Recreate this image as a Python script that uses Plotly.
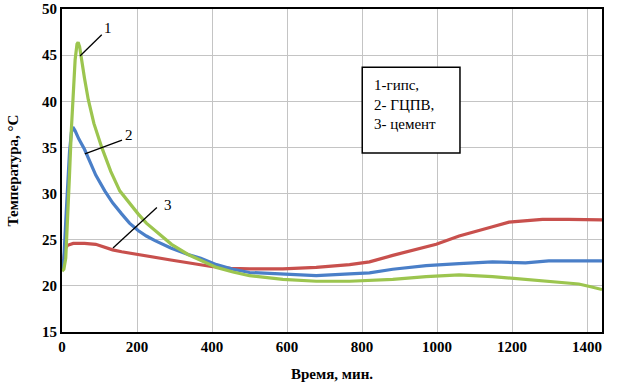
import plotly.graph_objects as go

# --- data ---
t_gips = [0, 5, 10, 15, 20, 25, 30, 35, 40, 43, 47, 50, 60, 70, 85, 106, 130, 154, 180, 203, 225, 248, 270, 292, 336, 370, 412, 456, 500, 589, 678, 767, 882, 971, 1059, 1148, 1236, 1325, 1378, 1410, 1440]
T_gips = [21.6, 21.8, 23.0, 27.0, 32.0, 37.0, 41.5, 44.5, 46.2, 46.4, 45.9, 45.0, 42.5, 40.2, 37.6, 35.0, 32.4, 30.3, 28.9, 27.8, 26.8, 26.0, 25.2, 24.5, 23.4, 22.8, 22.0, 21.5, 21.1, 20.7, 20.5, 20.5, 20.7, 21.0, 21.2, 21.0, 20.7, 20.4, 20.2, 19.9, 19.6]

t_gcpv = [0, 5, 10, 15, 20, 25, 29, 35, 45, 60, 70, 90, 114, 135, 159, 180, 203, 225, 248, 290, 336, 370, 412, 456, 500, 589, 678, 767, 820, 882, 971, 1059, 1148, 1236, 1298, 1440]
T_gcpv = [21.6, 23.0, 27.0, 31.0, 34.5, 36.6, 37.2, 36.8, 35.9, 34.8, 33.9, 32.0, 30.3, 29.0, 27.8, 26.8, 26.0, 25.4, 24.9, 24.1, 23.4, 23.0, 22.3, 21.8, 21.45, 21.3, 21.1, 21.3, 21.4, 21.8, 22.2, 22.4, 22.6, 22.5, 22.7, 22.7]

t_cem = [0, 4, 8, 15, 30, 60, 90, 114, 135, 159, 200, 248, 290, 336, 398, 450, 500, 589, 678, 767, 820, 882, 940, 998, 1059, 1100, 1148, 1192, 1240, 1281, 1350, 1440]
T_cem = [21.6, 22.5, 24.0, 24.4, 24.6, 24.6, 24.5, 24.2, 23.9, 23.7, 23.4, 23.1, 22.8, 22.5, 22.1, 21.9, 21.85, 21.85, 22.0, 22.3, 22.6, 23.3, 23.9, 24.5, 25.4, 25.9, 26.4, 26.9, 27.1, 27.2, 27.2, 27.15]

x_ticks = [0, 200, 400, 600, 800, 1000, 1200, 1400]
y_ticks = [15, 20, 25, 30, 35, 40, 45, 50]

legend_text = "1-гипс,<br>2- ГЦПВ,<br>3- цемент"
x_title = "Время, мин."
y_title = "Температура, °С"

# leader labels: (label, point x, point y, line end x, line end y, text x, text y)
labels = [
    ("1", 48, 44.9, 106, 47.2, 122, 47.9),
    ("2", 61, 34.3, 160, 35.8, 178, 36.3),
    ("3", 136, 24.1, 253, 28.5, 282, 28.8),
]

SERIF = "Times New Roman, Liberation Serif, serif"

fig = go.Figure()
fig.add_trace(go.Scatter(x=t_cem, y=T_cem, mode="lines",
                         line=dict(color="#c8504d", width=3.2), name="3"))
fig.add_trace(go.Scatter(x=t_gcpv, y=T_gcpv, mode="lines",
                         line=dict(color="#4a7fc8", width=3.2), name="2"))
fig.add_trace(go.Scatter(x=t_gips, y=T_gips, mode="lines",
                         line=dict(color="#9cc54f", width=3.2), name="1"))

for lab, x0, y0, x1, y1, xt, yt in labels:
    fig.add_shape(type="line", xref="x", yref="y", x0=x0, y0=y0, x1=x1, y1=y1,
                  line=dict(color="black", width=1.3))
    fig.add_annotation(x=xt, y=yt, xref="x", yref="y", text=lab, showarrow=False,
                       font=dict(family=SERIF, size=15, color="black"))

# legend box
fig.add_shape(type="rect", xref="paper", yref="paper", x0=0.556, x1=0.737, y0=0.554, y1=0.820,
              line=dict(color="black", width=1.5), fillcolor="white", layer="above")
fig.add_annotation(xref="paper", yref="paper", x=0.574, y=0.795, xanchor="left", yanchor="top",
                   text=legend_text, showarrow=False, align="left",
                   font=dict(family=SERIF, size=15, color="black"))

axis_font = dict(family=SERIF, size=15, color="black", weight="bold")
fig.update_layout(
    width=624, height=392,
    margin=dict(l=62, r=22, t=9, b=60, autoexpand=False),
    paper_bgcolor="white", plot_bgcolor="white",
    showlegend=False,
    font=dict(family=SERIF),
    xaxis=dict(range=[0, 1440], tickvals=x_ticks, ticktext=[str(v) for v in x_ticks],
               showgrid=True, gridcolor="#c4c4c4", gridwidth=1,
               showline=True, linecolor="black", linewidth=2, mirror=True,
               ticks="", tickfont=axis_font, zeroline=False, automargin=False,
               title=dict(text=x_title, font=axis_font, standoff=14)),
    yaxis=dict(range=[15, 50], tickvals=y_ticks, ticktext=[str(v) for v in y_ticks],
               showgrid=True, gridcolor="#c4c4c4", gridwidth=1,
               showline=True, linecolor="black", linewidth=2, mirror=True,
               ticks="", tickfont=axis_font, zeroline=False, automargin=False,
               title=dict(text=y_title, font=axis_font, standoff=20)),
)

fig.write_html("out.html", config={"displayModeBar": False},
               post_script="document.body.style.margin='0';document.body.style.overflow='hidden';")
